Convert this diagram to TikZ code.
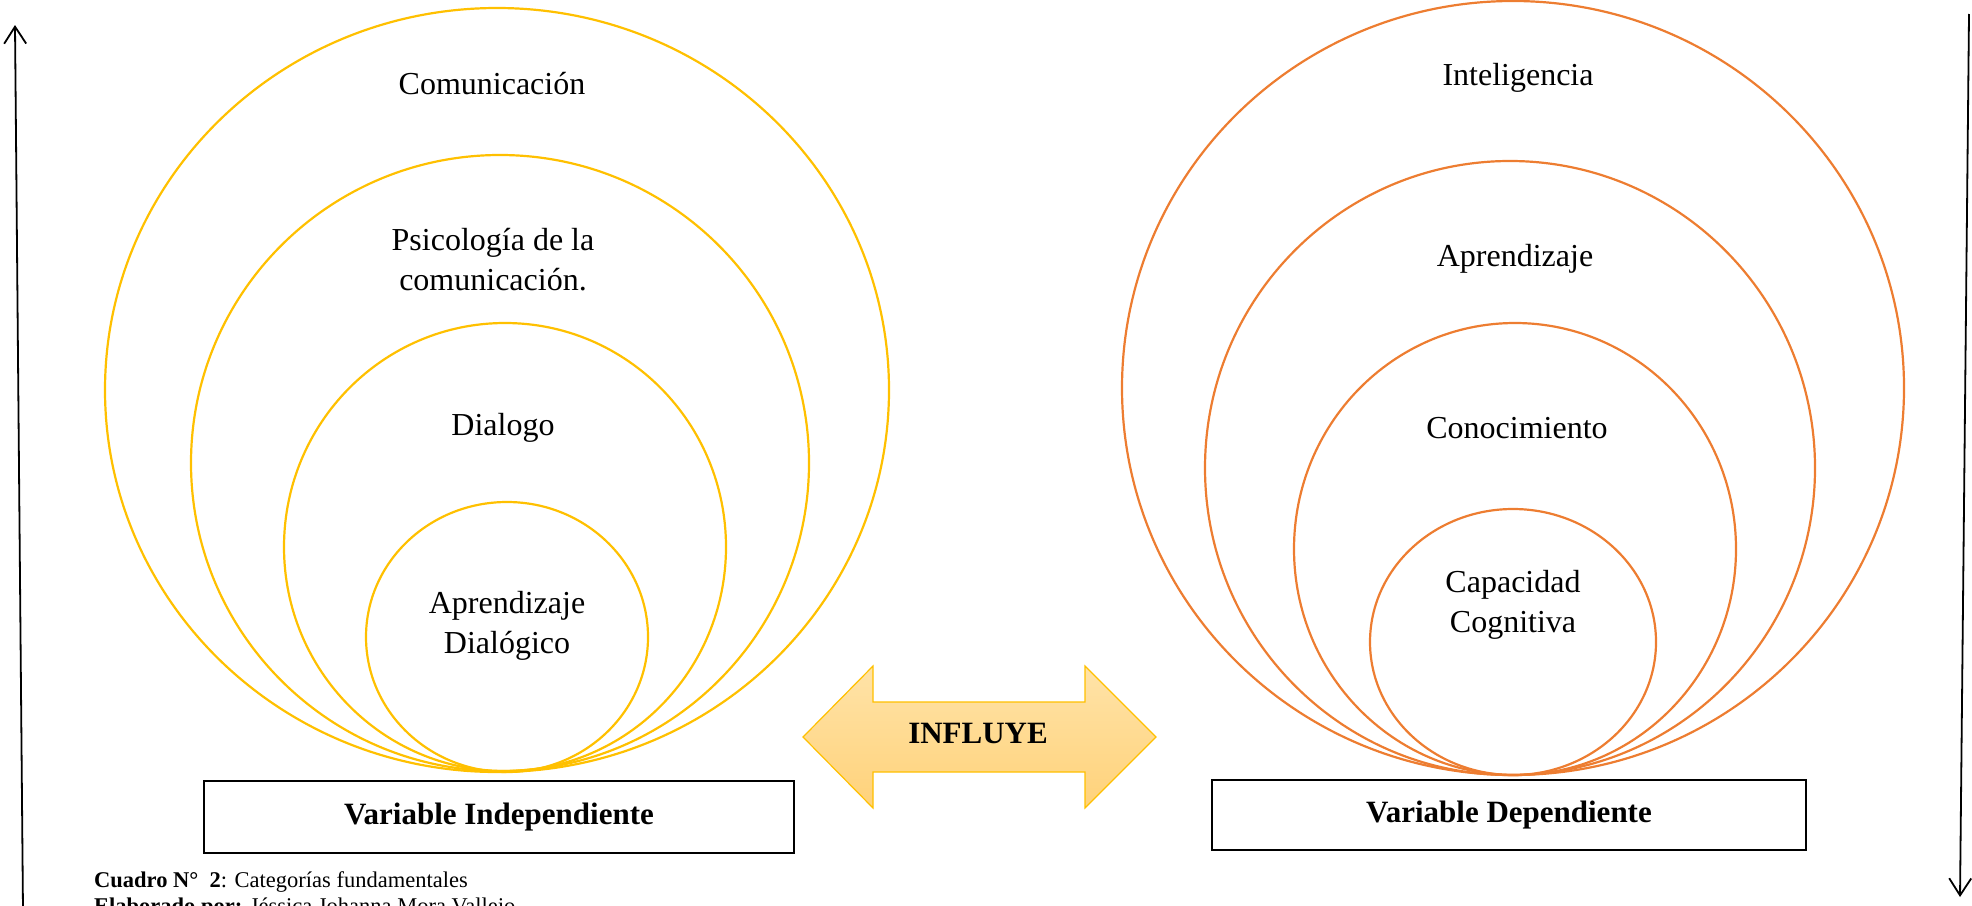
\documentclass[tikz,border=0pt]{standalone}
\usepackage{fontspec}
\setmainfont{Liberation Serif}
\usetikzlibrary{arrows.meta}
\definecolor{ygold}{HTML}{FFC000}
\definecolor{orng}{HTML}{ED7D31}
\definecolor{arrtop}{HTML}{FFE3A8}
\definecolor{arrbot}{HTML}{FFD27A}
\tikzset{
  ycirc/.style={draw=ygold, line width=2.2pt},
  ocirc/.style={draw=orng, line width=2.2pt},
  lbl/.style={font=\fontsize{32}{40}\selectfont, align=center, inner sep=0pt},
  varbox/.style={draw=black, line width=2pt, font=\fontsize{31}{38}\selectfont\bfseries, inner sep=0pt},
  sidearrow/.style={draw=black, line width=1.8pt, -{Straight Barb[length=17pt,width=22pt,line width=1.8pt]}},
  captext/.style={font=\fontsize{22.5}{26}\selectfont, anchor=base west, inner sep=0pt}
}
\begin{document}
\begin{tikzpicture}[x=1pt,y=-1pt]
\useasboundingbox (0,0) rectangle (1972,905);
% left yellow circles
\draw[ycirc] (497,390) ellipse [x radius=392pt, y radius=382pt];
\draw[ycirc] (500,463) ellipse [x radius=309pt, y radius=308pt];
\draw[ycirc] (505,547) ellipse [x radius=221pt, y radius=224pt];
\draw[ycirc] (507,637) ellipse [x radius=141pt, y radius=135pt];
% right orange circles
\draw[ocirc] (1513,388) ellipse [x radius=391pt, y radius=387pt];
\draw[ocirc] (1510,468) ellipse [x radius=305pt, y radius=307pt];
\draw[ocirc] (1515,549) ellipse [x radius=221pt, y radius=226pt];
\draw[ocirc] (1513,642) ellipse [x radius=143pt, y radius=133pt];
% labels
\node[lbl] (com) at (492,84) {Comunicación};
\node[lbl] (psi) at (493,260) {Psicología de la\\comunicación.};
\node[lbl] (dia) at (503,428) {Dialogo};
\node[lbl] (apd) at (507,626) {Aprendizaje\\Dialógico};
\node[lbl] (int) at (1518,78) {Inteligencia};
\node[lbl] (apr) at (1515,259) {Aprendizaje};
\node[lbl] (con) at (1517,428) {Conocimiento};
\node[lbl] (capc) at (1513,605) {Capacidad\\Cognitiva};
% variable boxes
\node[varbox, minimum width=590pt, minimum height=72pt] (vi) at (499,817) {Variable Independiente};
\node[varbox, minimum width=594pt, minimum height=70pt] (vd) at (1509,815) {Variable Dependiente};
% double arrow
\path[draw=ygold, line width=1.2pt, top color=arrtop, bottom color=arrbot]
  (803,737) -- (873,666) -- (873,702) -- (1085,702) -- (1085,666) -- (1156,737)
  -- (1085,808) -- (1085,772) -- (873,772) -- (873,808) -- cycle;
\node[font=\fontsize{31}{36}\selectfont\bfseries, inner sep=0pt] (inf) at (978,733) {INFLUYE};
% side arrows
\coordinate (lb) at (23,910);
\coordinate (lt) at (15,25);
\coordinate (rt) at (1969,14);
\coordinate (rb) at (1960,897);
\draw[sidearrow] (lb) -- (lt);
\draw[sidearrow] (rt) -- (rb);
% caption
\node[captext] (c1) at (94,887) {\textbf{Cuadro N°\ \ 2}: Categorías fundamentales};
\node[captext] (c2) at (94,913) {\textbf{Elaborado por:} Jéssica Johanna Mora Vallejo};
\end{tikzpicture}
\end{document}
